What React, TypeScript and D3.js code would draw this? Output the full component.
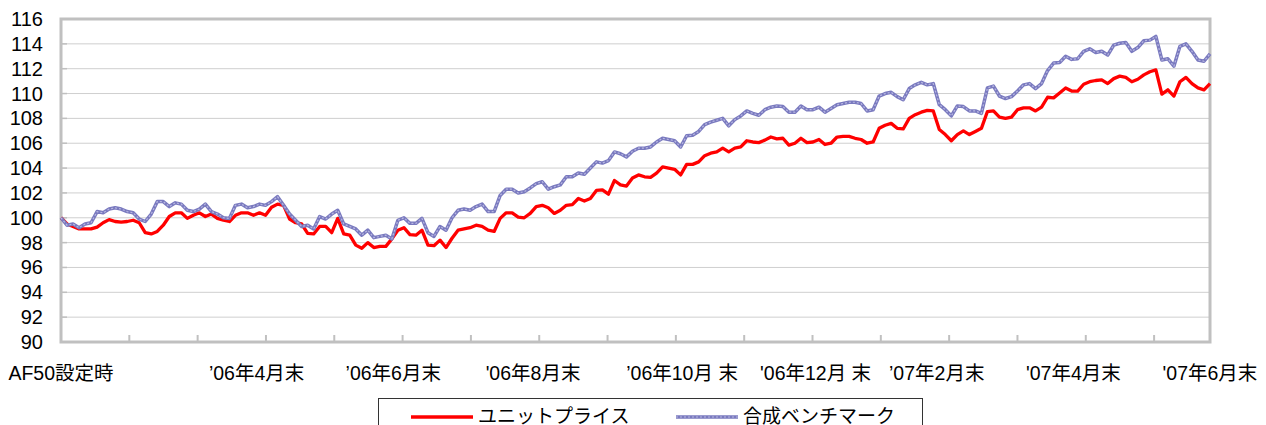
import React, { useEffect, useRef } from "react";
import * as d3 from "d3";

// values, evenly spaced from the fund start to end of June 2007
const unitPrice = [
  100.0, 99.5, 99.3, 99.1, 99.1, 99.1, 99.25, 99.6, 99.85, 99.7,
  99.65, 99.7, 99.8, 99.6, 98.8, 98.7, 98.9, 99.4, 100.1, 100.4,
  100.4, 99.95, 100.2, 100.4, 100.1, 100.3, 99.95, 99.8, 99.7, 100.2,
  100.4, 100.4, 100.2, 100.4, 100.2, 100.85, 101.1, 101.0, 99.9, 99.6,
  99.5, 98.75, 98.7, 99.3, 99.3, 98.8, 99.95, 98.7, 98.6, 97.8,
  97.55, 98.0, 97.6, 97.7, 97.7, 98.3, 99.0, 99.2, 98.65, 98.6,
  99.0, 97.8, 97.75, 98.2, 97.6, 98.35, 99.0, 99.1, 99.2, 99.4,
  99.3, 99.0, 98.9, 99.95, 100.4, 100.4, 100.05, 100.0, 100.35, 100.9,
  101.0, 100.8, 100.35, 100.6, 101.0, 101.05, 101.55, 101.35, 101.55, 102.2,
  102.25, 101.9, 103.0, 102.65, 102.55, 103.2, 103.45, 103.3, 103.25, 103.6,
  104.1, 104.0, 103.9, 103.45, 104.3, 104.3, 104.5, 105.0, 105.2, 105.3,
  105.6, 105.3, 105.6, 105.7, 106.2, 106.1, 106.05, 106.25, 106.5, 106.35,
  106.4, 105.85, 106.0, 106.4, 106.05, 106.1, 106.3, 105.9, 106.0, 106.5,
  106.55, 106.55, 106.4, 106.3, 106.0, 106.1, 107.2, 107.45, 107.6, 107.2,
  107.15, 108.0, 108.3, 108.5, 108.65, 108.6, 107.1, 106.7, 106.2, 106.7,
  107.0, 106.7, 106.95, 107.2, 108.55, 108.6, 108.1, 108.0, 108.1, 108.7,
  108.85, 108.85, 108.6, 108.9, 109.7, 109.65, 110.05, 110.45, 110.2, 110.2,
  110.75, 110.95, 111.05, 111.1, 110.8, 111.2, 111.4, 111.3, 110.95, 111.15,
  111.5, 111.75, 111.9, 109.95, 110.3, 109.8, 110.95, 111.3, 110.8, 110.45,
  110.3, 110.8,
];

const benchmark = [
  100.0, 99.4, 99.5, 99.2, 99.5, 99.6, 100.5, 100.4, 100.7, 100.8,
  100.7, 100.5, 100.4, 99.9, 99.7, 100.3, 101.3, 101.3, 100.9, 101.2,
  101.1, 100.6, 100.5, 100.7, 101.1, 100.5, 100.3, 100.0, 99.95, 101.0,
  101.1, 100.8, 100.9, 101.1, 101.0, 101.3, 101.7, 101.0, 100.3, 99.8,
  99.3, 99.4, 99.1, 100.1, 99.9, 100.3, 100.6, 99.5, 99.3, 99.1,
  98.6, 99.0, 98.4, 98.5, 98.6, 98.3, 99.8, 100.0, 99.55, 99.55,
  99.95, 98.8, 98.5, 99.3, 99.0, 100.0, 100.6, 100.7, 100.6, 100.9,
  101.1, 100.5, 100.5, 101.8, 102.3, 102.3, 102.0, 102.1, 102.4, 102.75,
  102.9, 102.3, 102.5, 102.65, 103.3, 103.3, 103.6, 103.5, 104.0, 104.5,
  104.4, 104.6, 105.3, 105.15, 104.9, 105.35, 105.6, 105.6, 105.7, 106.1,
  106.4, 106.3, 106.2, 105.7, 106.6, 106.65, 106.95, 107.5, 107.7, 107.85,
  108.0, 107.4, 107.9, 108.2, 108.6, 108.4, 108.25, 108.7, 108.9, 109.0,
  108.95, 108.5, 108.5, 109.0, 108.7, 108.7, 108.9, 108.5, 108.8, 109.1,
  109.2, 109.3, 109.3, 109.2, 108.6, 108.7, 109.8, 110.0, 110.1, 109.75,
  109.5, 110.4, 110.7, 110.9, 110.7, 110.8, 109.1, 108.7, 108.2, 109.0,
  108.95, 108.6, 108.6, 108.4, 110.45, 110.6, 109.8, 109.6, 109.75, 110.2,
  110.7, 110.8, 110.4, 110.8, 111.85, 112.45, 112.5, 113.0, 112.75, 112.8,
  113.4, 113.6, 113.3, 113.4, 113.1, 113.9, 114.05, 114.1, 113.4, 113.7,
  114.25, 114.3, 114.6, 112.7, 112.8, 112.2, 113.8, 114.0, 113.4, 112.7,
  112.6, 113.2,
];

const yTicks = [90, 92, 94, 96, 98, 100, 102, 104, 106, 108, 110, 112, 114, 116];

const xLabels = [
  "AF50設定時",
  "’06年4月末",
  "’06年6月末",
  "'06年8月末",
  "’06年10月 末",
  "'06年12月 末",
  "’07年2月末",
  "'07年4月末",
  "'07年6月末",
];
// trading day of each label (month ends)
const xLabelDays = [0, 63, 107, 152, 200, 243, 282, 326, 370];

const seriesNames = ["ユニットプライス", "合成ベンチマーク"];

const totalDays = 370;
const tickEvery = 22;

const FONT = "'Liberation Sans', Arial, 'Noto Sans CJK JP', sans-serif";

export default function App() {
  const ref = useRef<SVGSVGElement>(null);

  useEffect(() => {
    const svg = d3.select(ref.current);
    svg.selectAll("*").remove();

    const width = 1266;
    const height = 425;
    const margin = { top: 19, left: 61, bottom: 83, right: 56 };
    const iwidth = width - margin.left - margin.right;
    const iheight = height - margin.top - margin.bottom;

    const g = svg
      .append("g")
      .attr("transform", `translate(${margin.left},${margin.top})`);

    const x = d3.scaleLinear().domain([0, totalDays]).range([0, iwidth]);
    const y = d3.scaleLinear().domain([90, 116]).range([iheight, 0]);
    const dayOf = (i: number) => (i * totalDays) / (unitPrice.length - 1);

    // grid
    g.selectAll(".grid")
      .data(yTicks.slice(1, -1))
      .enter()
      .append("line")
      .attr("x1", 0)
      .attr("x2", iwidth)
      .attr("y1", (d) => y(d))
      .attr("y2", (d) => y(d))
      .attr("stroke", "#cfcfcf")
      .attr("stroke-width", 1);

    // y tick marks (inside)
    g.selectAll(".ytick")
      .data(yTicks)
      .enter()
      .append("line")
      .attr("x1", 0)
      .attr("x2", 6)
      .attr("y1", (d) => y(d))
      .attr("y2", (d) => y(d))
      .attr("stroke", "#c0c0c0")
      .attr("stroke-width", 1.5);

    // x tick marks
    const xt = d3.range(tickEvery, totalDays, tickEvery);
    g.selectAll(".xtick")
      .data(xt)
      .enter()
      .append("line")
      .attr("x1", (d) => x(d))
      .attr("x2", (d) => x(d))
      .attr("y1", iheight)
      .attr("y2", iheight - 7)
      .attr("stroke", "#c0c0c0")
      .attr("stroke-width", 2);

    // plot frame
    g.append("rect")
      .attr("x", 0)
      .attr("y", 0)
      .attr("width", iwidth)
      .attr("height", iheight)
      .attr("fill", "none")
      .attr("stroke", "#c0c0c0")
      .attr("stroke-width", 3);

    // y labels
    g.selectAll(".ylab")
      .data(yTicks)
      .enter()
      .append("text")
      .attr("x", -18)
      .attr("y", (d) => y(d))
      .attr("dy", "0.35em")
      .attr("text-anchor", "end")
      .attr("font-family", FONT)
      .attr("font-size", 20)
      .attr("fill", "#000")
      .text((d) => d);

    // x labels
    g.selectAll(".xlab")
      .data(xLabels)
      .enter()
      .append("text")
      .attr("x", (d, i) => x(xLabelDays[i]))
      .attr("y", iheight + 38)
      .attr("text-anchor", "middle")
      .attr("font-family", FONT)
      .attr("font-size", 19.5)
      .attr("fill", "#000")
      .style("white-space", "pre")
      .text((d) => d);

    const line = d3
      .line<number>()
      .x((d, i) => x(dayOf(i)))
      .y((d) => y(d));

    g.append("path")
      .datum(unitPrice)
      .attr("d", line)
      .attr("fill", "none")
      .attr("stroke", "#ff0000")
      .attr("stroke-width", 3.3)
      .attr("stroke-linejoin", "round");

    g.append("path")
      .datum(benchmark)
      .attr("d", line)
      .attr("fill", "none")
      .attr("stroke", "#7a7abf")
      .attr("stroke-width", 3.5)
      .attr("stroke-linejoin", "round");
    g.append("path")
      .datum(benchmark)
      .attr("d", line)
      .attr("fill", "none")
      .attr("stroke", "#b8b8e2")
      .attr("stroke-width", 1.2)
      .attr("stroke-dasharray", "2 2");

    // legend
    const lg = svg.append("g").attr("transform", "translate(378,398)");
    lg.append("rect")
      .attr("x", 0.5)
      .attr("y", 0.5)
      .attr("width", 544)
      .attr("height", 40)
      .attr("fill", "#fff")
      .attr("stroke", "#333")
      .attr("stroke-width", 1);

    const items = [
      { x: 33, color: "#ff0000", w: 3.3, over: false },
      { x: 298, color: "#7a7abf", w: 3.5, over: true },
    ];
    items.forEach((it, i) => {
      lg.append("line")
        .attr("x1", it.x)
        .attr("x2", it.x + 62)
        .attr("y1", 19)
        .attr("y2", 19)
        .attr("stroke", it.color)
        .attr("stroke-width", it.w);
      if (it.over) {
        lg.append("line")
          .attr("x1", it.x)
          .attr("x2", it.x + 62)
          .attr("y1", 19)
          .attr("y2", 19)
          .attr("stroke", "#b8b8e2")
          .attr("stroke-width", 1.2)
          .attr("stroke-dasharray", "2 2");
      }
      lg.append("text")
        .attr("x", it.x + 67)
        .attr("y", 25)
        .attr("font-family", FONT)
        .attr("font-size", 19)
        .attr("fill", "#000")
        .text(seriesNames[i]);
    });
  }, []);

  return (
    <svg
      ref={ref}
      width={1266}
      height={425}
      style={{ position: "absolute", left: 0, top: 0, background: "#fff" }}
    />
  );
}
